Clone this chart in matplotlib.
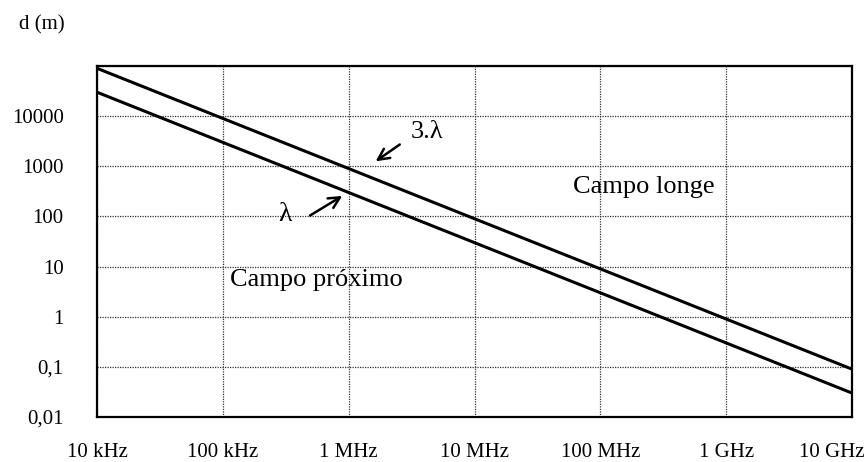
import matplotlib.pyplot as plt
import matplotlib.transforms as mtransforms

# frequencias (Hz) e distancias (m)
freq = [1e4, 1e10]
lam = [3e4, 3e-2]
lam3 = [9e4, 9e-2]

xticks = [1e4, 1e5, 1e6, 1e7, 1e8, 1e9, 1e10]
xlabels = ['10 kHz', '100 kHz', '1 MHz', '10 MHz', '100 MHz', '1 GHz', '10 GHz']
yticks = [1e-2, 1e-1, 1, 10, 100, 1000, 10000, 1e5]
ylabels = ['0,01', '0,1', '1', '10', '100', '1000', '10000', '']

plt.rcParams['font.family'] = ['Liberation Serif', 'DejaVu Serif']

fig = plt.figure(figsize=(8.68, 4.62), dpi=100)
ax = fig.add_axes([0.1118, 0.0974, 0.8698, 0.7597])

ax.plot(freq, lam3, color='black', lw=2.2, solid_capstyle='butt')
ax.plot(freq, lam, color='black', lw=2.2, solid_capstyle='butt')

ax.set_xscale('log')
ax.set_yscale('log')
ax.set_xlim(1e4, 1e10)
ax.set_ylim(1e-2, 1e5)
ax.set_xticks(xticks)
ax.set_xticklabels(xlabels)
ax.set_yticks(yticks)
ax.set_yticklabels(ylabels)
ax.minorticks_off()
ax.tick_params(axis='x', length=0, pad=19, labelsize=15)
ax.tick_params(axis='y', length=0, pad=24, labelsize=15)
ax.grid(True, color='#333333', linestyle=(0, (1, 1)), linewidth=0.9)

for s in ax.spines.values():
    s.set_linewidth(1.6)
    s.set_color('black')

# last label pushed left so it stays inside the figure
lab = ax.get_xticklabels()[-1]
lab.set_transform(lab.get_transform() + mtransforms.ScaledTranslation(-0.2, 0, fig.dpi_scale_trans))

# anotacoes
ax.annotate('', xy=(0.366, 0.724), xytext=(0.404, 0.781), xycoords='axes fraction',
            arrowprops=dict(arrowstyle='->', color='black', lw=1.8, mutation_scale=20))
ax.text(0.437, 0.812, '3.λ', transform=ax.transAxes, fontsize=19, ha='center', va='center')
ax.annotate('', xy=(0.328, 0.634), xytext=(0.279, 0.570), xycoords='axes fraction',
            arrowprops=dict(arrowstyle='->', color='black', lw=1.8, mutation_scale=20))
ax.text(0.249, 0.578, 'λ', transform=ax.transAxes, fontsize=20, ha='center', va='center')

ax.text(0.7245, 0.655, 'Campo longe', transform=ax.transAxes, fontsize=19, ha='center', va='center')
ax.text(0.291, 0.390, 'Campo próximo', transform=ax.transAxes, fontsize=19, ha='center', va='center')

fig.text(0.048, 0.946, 'd (m)', fontsize=15, ha='center', va='center')

plt.savefig('out.png', dpi=100)
